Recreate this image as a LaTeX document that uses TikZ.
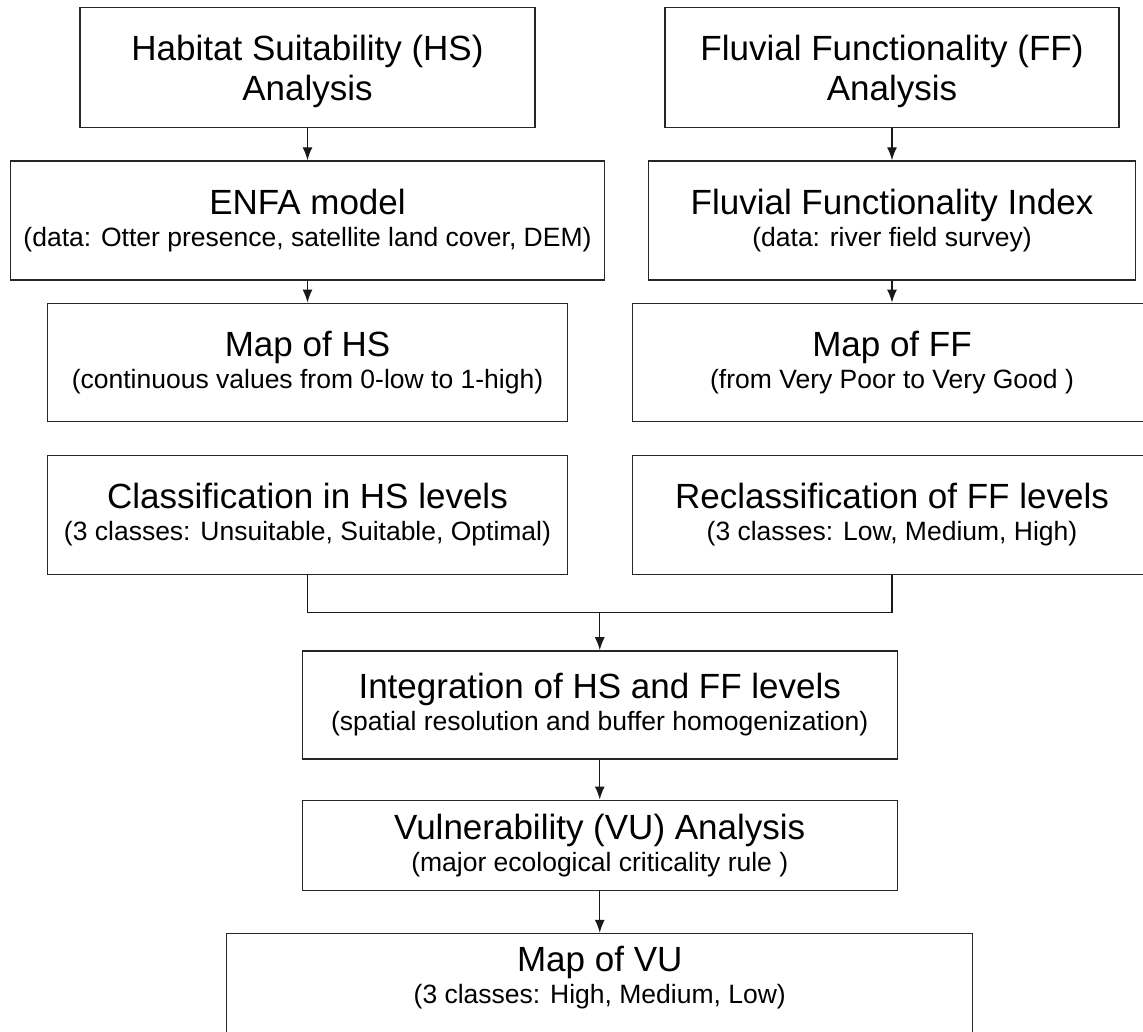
\documentclass[tikz,border=0pt]{standalone}
\usepackage{fontspec}
\setmainfont{Liberation Sans}
\usetikzlibrary{arrows.meta, positioning, calc}

\newcommand{\boxtitle}{\fontsize{35}{40}\selectfont}
\newcommand{\boxnote}{\fontsize{26.5}{32}\selectfont}

\begin{document}
\begin{tikzpicture}[x=1pt, y=1pt, auto,
    box/.style={draw=black!85, line width=1.3pt, align=center, inner sep=0pt, font=\boxnote},
    flow/.style={draw=black!90, line width=1.3pt, -{Latex[length=13pt, width=10pt]}},
    link/.style={draw=black!90, line width=1.3pt}]
    \path[use as bounding box] (0,0) rectangle (1143,-1031);
    \clip (0,0) rectangle (1143,-1031);

    % two analysis columns
    \node[box, font=\boxtitle, text depth=0pt, minimum width=455pt, minimum height=120pt, anchor=north] (hs) at (307.5,-7) {Habitat Suitability (HS)\\Analysis};
    \node[box, font=\boxtitle, text depth=0pt, minimum width=454pt, minimum height=120pt, anchor=north] (ff) at (892,-7) {Fluvial Functionality (FF)\\Analysis};

    \node[box, minimum width=594pt, minimum height=119pt, below=32pt of hs] (enfa) {{\boxtitle ENFA model}\\(data: Otter presence, satellite land cover, DEM)};
    \node[box, minimum width=487pt, minimum height=119pt, below=32pt of ff] (ffi) {{\boxtitle Fluvial Functionality Index}\\(data: river field survey)};

    \node[box, minimum width=520.5pt, minimum height=118pt, below=22pt of enfa] (mhs) {{\boxtitle Map of HS}\\(continuous values from 0-low to 1-high)};
    \node[box, minimum width=519pt, minimum height=118pt, below=22pt of ffi] (mff) {{\boxtitle Map of FF}\\(from Very Poor to Very Good )};

    \node[box, minimum width=520.5pt, minimum height=119pt, below=33pt of mhs] (chs) {{\boxtitle Classification in HS levels}\\(3 classes: Unsuitable, Suitable, Optimal)};
    \node[box, minimum width=519pt, minimum height=119pt, below=33pt of mff] (rff) {{\boxtitle Reclassification of FF levels}\\(3 classes: Low, Medium, High)};

    % merge
    \coordinate (join) at ($(chs.south)!.5!(rff.south)+(0,-37)$);
    \node[box, minimum width=595pt, minimum height=108pt, below=38pt of join] (integ) {{\boxtitle Integration of HS and FF levels}\\(spatial resolution and buffer homogenization)};
    \node[box, minimum width=595pt, minimum height=90pt, below=40pt of integ] (vu) {{\boxtitle Vulnerability (VU) Analysis}\\(major ecological criticality rule )};
    \node[box, minimum width=746pt, minimum height=150pt, text depth=68pt, below=42pt of vu] (mvu) {{\boxtitle Map of VU}\\(3 classes: High, Medium, Low)};

    \draw[flow] (hs) -- (enfa);
    \draw[flow] (enfa) -- (mhs);
    \draw[flow] (ff) -- (ffi);
    \draw[flow] (ffi) -- (mff);
    \draw[link] (chs.south) |- (join) -| (rff.south);
    \draw[flow] (join) -- (integ);
    \draw[flow] (integ) -- (vu);
    \draw[flow] (vu) -- (mvu);
\end{tikzpicture}
\end{document}
